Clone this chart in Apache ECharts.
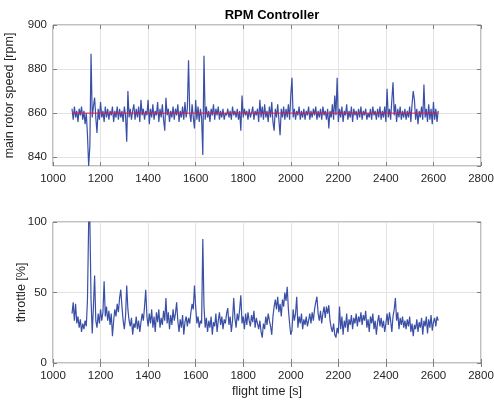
<!DOCTYPE html>
<html>
<head>
<meta charset="utf-8">
<script src="https://cdn.jsdelivr.net/npm/echarts@6/dist/echarts.min.js"></script>
<style>
  html, body { margin: 0; padding: 0; background: #fff; }
  #chart { width: 494px; height: 402px; }
</style>
</head>
<body>
<div id="chart"></div>
<script>
// sample grid of the flight log (s)
const tStart = 1080;
const tStep = 5;

// main rotor speed [rpm], one value per 5 s
const rpm = [
  862, 857, 863, 858, 861, 856, 862, 859, 863, 857, 861, 855, 860, 850, 836, 845, 887, 858, 863, 867,
  858, 851, 862, 857, 865, 858, 861, 856, 863, 858, 862, 857, 861, 859, 863, 856, 861, 858, 863, 857,
  862, 858, 861, 856, 863, 859, 847, 870, 858, 862, 857, 861, 864, 857, 862, 858, 863, 856, 866, 859,
  862, 857, 861, 859, 866, 855, 862, 858, 864, 857, 861, 859, 865, 856, 862, 858, 864, 857, 852, 867,
  859, 862, 856, 861, 858, 863, 857, 862, 859, 864, 856, 861, 858, 863, 857, 865, 858, 862, 884, 860,
  856, 864, 858, 853, 866, 857, 863, 856, 862, 858, 841, 886, 857, 863, 858, 861, 856, 862, 859, 864,
  857, 862, 859, 863, 857, 861, 858, 862, 857, 860, 859, 862, 858, 861, 857, 863, 859, 861, 858, 862,
  857, 861, 852, 868, 858, 862, 859, 861, 857, 862, 858, 860, 863, 857, 861, 859, 862, 856, 866, 858,
  863, 857, 864, 858, 861, 856, 863, 858, 865, 856, 852, 862, 858, 864, 857, 850, 862, 858, 863, 857,
  862, 858, 864, 857, 868, 876, 858, 862, 857, 861, 859, 863, 857, 861, 858, 862, 857, 861, 859, 863,
  857, 861, 858, 862, 859, 863, 857, 861, 858, 862, 857, 863, 859, 861, 857, 862, 853, 861, 858, 864,
  857, 868, 859, 876, 856, 862, 858, 863, 856, 861, 859, 864, 857, 861, 858, 863, 856, 862, 859, 861,
  857, 862, 858, 863, 857, 861, 859, 862, 857, 860, 858, 862, 857, 863, 859, 861, 857, 862, 858, 863,
  857, 861, 858, 863, 856, 871, 858, 862, 857, 866, 874, 859, 864, 856, 862, 858, 863, 857, 861, 858,
  862, 857, 861, 858, 863, 856, 864, 870, 866, 857, 862, 855, 861, 858, 863, 857, 873, 858, 862, 856,
  864, 857, 862, 855, 865, 857, 862, 856, 861
];

// commanded rotor speed [rpm]
const rpmRef = 860;

// throttle [%], one value per 5 s
const throttle = [
  35, 43, 30, 42, 28, 33, 25, 31, 22, 28, 24, 30, 26, 45, 100, 102, 45, 21, 40, 62,
  30, 25, 35, 28, 38, 30, 36, 58, 33, 40, 30, 37, 27, 35, 19, 30, 38, 33, 42, 36,
  46, 52, 40, 30, 24, 33, 55, 38, 30, 26, 32, 20, 28, 25, 33, 24, 30, 22, 29, 35,
  30, 40, 52, 33, 26, 35, 28, 38, 25, 33, 22, 36, 29, 38, 25, 32, 27, 37, 30, 46,
  28, 36, 24, 34, 27, 38, 30, 35, 43, 30, 22, 31, 25, 34, 20, 29, 33, 26, 32, 28,
  36, 42, 38, 55, 40, 28, 33, 25, 30, 28, 88, 40, 25, 32, 22, 30, 25, 33, 20, 29,
  26, 35, 22, 30, 36, 27, 33, 24, 31, 28, 35, 39, 27, 33, 22, 30, 46, 32, 25, 35,
  30, 38, 48, 28, 33, 24, 35, 27, 36, 30, 26, 34, 29, 37, 25, 32, 28, 24, 30, 22,
  18, 28, 24, 33, 27, 35, 30, 26, 20, 33, 40, 45, 38, 47, 36, 42, 33, 45, 40, 50,
  44, 54, 38, 28, 20, 23, 38, 30, 35, 47, 25, 33, 28, 35, 24, 31, 27, 33, 26, 30,
  35, 28, 36, 30, 38, 43, 47, 35, 30, 37, 28, 35, 40, 32, 40, 35, 41, 30, 25, 22,
  28, 20, 18, 25, 21, 40, 24, 33, 20, 30, 25, 35, 22, 31, 27, 34, 24, 32, 28, 35,
  26, 33, 29, 36, 27, 34, 30, 37, 25, 31, 22, 33, 28, 35, 24, 30, 20, 29, 34, 26,
  32, 25, 30, 22, 28, 35, 27, 36, 30, 22, 33, 38, 46, 30, 36, 24, 32, 27, 33, 25,
  30, 24, 31, 26, 33, 22, 28, 19, 27, 24, 31, 22, 29, 25, 32, 20, 30, 26, 33, 21,
  31, 25, 34, 23, 29, 32, 26, 33, 30
];

const xTicks = [1000, 1200, 1400, 1600, 1800, 2000, 2200, 2400, 2600, 2800];

const toPairs = arr => arr.map((v, i) => [tStart + i * tStep, v]);
const tEnd = tStart + (rpm.length - 1) * tStep;

const blue = "#3a4fa6";
const red = "#e3174d";
const gridColor = "#e3e3e3";
const axisColor = "#808080";
const textColor = "#262626";
const font = "Liberation Sans, Arial, sans-serif";
const tickFont = 11.5;
const nameFont = 12.5;

function xAxisFor(gridIndex, position, name) {
  return {
    type: "value",
    gridIndex: gridIndex,
    position: position,
    min: xTicks[0],
    max: xTicks[xTicks.length - 1],
    interval: 200,
    name: name || "",
    nameLocation: "middle",
    nameGap: 22,
    nameTextStyle: { color: textColor, fontSize: nameFont, fontFamily: font },
    axisLine: { show: false },
    axisTick: { show: true, inside: true, length: 4, lineStyle: { color: axisColor } },
    axisLabel: {
      show: position === "bottom",
      color: textColor,
      fontSize: tickFont,
      fontFamily: font,
      margin: 7,
      formatter: v => String(v)
    },
    splitLine: { show: position === "bottom", lineStyle: { color: gridColor, width: 1 } }
  };
}

function yAxisFor(gridIndex, position, opts, hideMin) {
  return Object.assign({
    type: "value",
    gridIndex: gridIndex,
    position: position,
    nameLocation: "middle",
    nameMoveOverlap: false,
    nameTextStyle: { color: textColor, fontSize: nameFont, fontFamily: font },
    axisLine: { show: false },
    axisTick: { show: true, inside: true, length: 4, lineStyle: { color: axisColor } },
    axisLabel: {
      show: position === "left",
      showMinLabel: !hideMin,
      color: textColor,
      fontSize: tickFont,
      fontFamily: font,
      margin: 6,
      formatter: v => String(v)
    },
    splitLine: { show: position === "left", lineStyle: { color: gridColor, width: 1 } }
  }, opts);
}

const rpmAxis = { min: 836, max: 900, splitNumber: 3 };
const throttleAxis = { min: 0, max: 100, interval: 50 };

const chart = echarts.init(document.getElementById("chart"));
chart.setOption({
  animation: false,
  backgroundColor: "#fff",
  title: {
    text: "RPM Controller",
    left: 267,
    top: 4,
    textAlign: "center",
    textStyle: { color: "#000", fontSize: 13, fontWeight: "bold", fontFamily: font }
  },
  grid: [
    { left: 53, top: 25, width: 428, height: 141, outerBoundsMode: "none", containLabel: false, show: true, borderColor: axisColor, borderWidth: 1, backgroundColor: "#fff" },
    { left: 53, top: 222, width: 428, height: 141, outerBoundsMode: "none", containLabel: false, show: true, borderColor: axisColor, borderWidth: 1, backgroundColor: "#fff" }
  ],
  xAxis: [
    xAxisFor(0, "bottom"),
    xAxisFor(0, "top"),
    xAxisFor(1, "bottom", "flight time [s]"),
    xAxisFor(1, "top")
  ],
  yAxis: [
    yAxisFor(0, "left", Object.assign({ name: "main rotor speed [rpm]", nameGap: 37 }, rpmAxis), true),
    yAxisFor(0, "right", rpmAxis, true),
    yAxisFor(1, "left", Object.assign({ name: "throttle [%]", nameGap: 25 }, throttleAxis), false),
    yAxisFor(1, "right", throttleAxis, false)
  ],
  series: [
    {
      type: "line",
      xAxisIndex: 0,
      yAxisIndex: 0,
      data: toPairs(rpm),
      symbol: "none",
      clip: true,
      lineStyle: { color: blue, width: 1.2 }
    },
    {
      type: "line",
      xAxisIndex: 0,
      yAxisIndex: 0,
      data: [[tStart, rpmRef], [tEnd, rpmRef]],
      symbol: "none",
      lineStyle: { color: red, width: 1 }
    },
    {
      type: "line",
      xAxisIndex: 2,
      yAxisIndex: 2,
      data: toPairs(throttle),
      symbol: "none",
      clip: true,
      lineStyle: { color: blue, width: 1.2 }
    }
  ]
});
</script>
</body>
</html>
